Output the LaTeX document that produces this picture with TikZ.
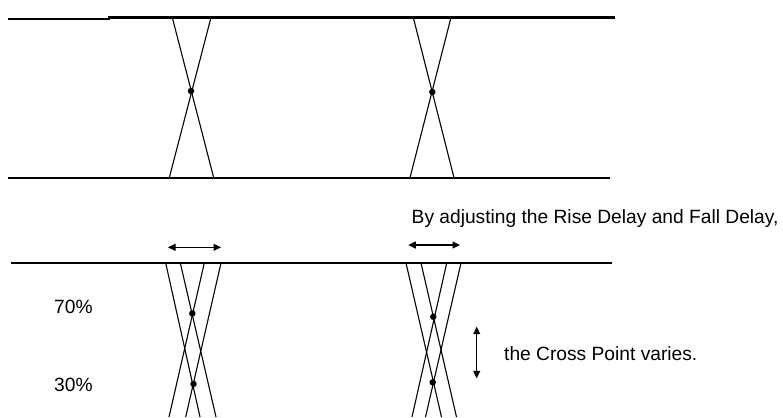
\documentclass[tikz,border=0pt]{standalone}
\usepackage{fontspec}
\setmainfont{Liberation Sans}
\usetikzlibrary{arrows.meta}
\begin{document}
\begin{tikzpicture}[x=1bp,y=-1bp,
  rail/.style={line width=2.1bp},
  railthin/.style={line width=1.4bp},
  edge/.style={line width=1.1bp},
  dot/.style={circle,fill=black,inner sep=0pt,minimum size=6.5bp},
  dbl/.style={line width=1.1bp,{Triangle[length=7.5bp,width=7bp]}-{Triangle[length=7.5bp,width=7bp]}},
  lbl/.style={inner sep=0pt,font=\fontsize{19.2bp}{23bp}\selectfont}]
\useasboundingbox (0,0) rectangle (783,417);
% ---- upper diagram ----
\coordinate (t0) at (8,18.6);
\coordinate (t1) at (110,18.6);
\coordinate (t2) at (108,17.5);
\coordinate (t3) at (615,17.5);
\draw[rail] (t0) -- (t1);
\draw[rail] (t2) -- (t3);
\coordinate (b0) at (8,177.7);
\coordinate (b1) at (610,177.7);
\draw[rail] (b0) -- (b1);
% left X
\coordinate (a1) at (172.3,17.5);
\coordinate (a2) at (213.7,177.7);
\coordinate (a3) at (211,17.5);
\coordinate (a4) at (169.3,177.7);
\draw[edge] (a1) -- (a2);
\draw[edge] (a3) -- (a4);
\node[dot] (da) at (191,91) {};
% right X
\coordinate (c1) at (413.3,17.5);
\coordinate (c2) at (454,177.7);
\coordinate (c3) at (451,17.5);
\coordinate (c4) at (410,177.7);
\draw[edge] (c1) -- (c2);
\draw[edge] (c3) -- (c4);
\node[dot] (dc) at (432.3,92) {};
% ---- text ----
\node[lbl,anchor=base west] (txt1) at (411.5,223.5) {By adjusting the Rise Delay and Fall Delay,};
% ---- lower diagram ----
\coordinate (l0) at (11,263.4);
\coordinate (l1) at (125,263.4);
\coordinate (l2) at (121,262.6);
\coordinate (l3) at (511.7,262.6);
\coordinate (l4) at (511.7,263);
\coordinate (l5) at (611.7,263);
\draw[rail] (l0) -- (l1);
\draw[rail] (l2) -- (l3);
\draw[railthin] (l4) -- (l5);
% left group
\coordinate (p1) at (165.7,263);
\coordinate (p2) at (200,417);
\coordinate (p3) at (180.3,263);
\coordinate (p4) at (216,417);
\coordinate (p5) at (204.3,263);
\coordinate (p6) at (169,417);
\coordinate (p7) at (221,263);
\coordinate (p8) at (185.7,417);
\draw[edge] (p1) -- (p2);
\draw[edge] (p3) -- (p4);
\draw[edge] (p5) -- (p6);
\draw[edge] (p7) -- (p8);
\node[dot] (d70a) at (192.3,313.5) {};
\node[dot] (d30a) at (193.5,384) {};
\coordinate (ha1) at (168,247.3);
\coordinate (ha2) at (221,247.3);
\draw[dbl] (ha1) -- (ha2);
% right group
\coordinate (q1) at (406,263);
\coordinate (q2) at (441.5,417);
\coordinate (q3) at (421,263);
\coordinate (q4) at (456.5,417);
\coordinate (q5) at (446.7,263);
\coordinate (q6) at (412,417);
\coordinate (q7) at (461,263);
\coordinate (q8) at (425.5,417);
\draw[edge] (q1) -- (q2);
\draw[edge] (q3) -- (q4);
\draw[edge] (q5) -- (q6);
\draw[edge] (q7) -- (q8);
\node[dot] (d70b) at (433.3,316.7) {};
\node[dot] (d30b) at (432.7,382.3) {};
\coordinate (hb1) at (408.3,245);
\coordinate (hb2) at (460,245);
\draw[dbl] (hb1) -- (hb2);
% vertical arrow
\coordinate (v1) at (476.7,326.7);
\coordinate (v2) at (476.7,378.3);
\draw[dbl] (v1) -- (v2);
% labels
\node[lbl,anchor=west] (p70) at (54,306.7) {70\%};
\node[lbl,anchor=west] (p30) at (54,385) {30\%};
\node[lbl,anchor=west] (txt2) at (504,353.3) {the Cross Point varies.};
\end{tikzpicture}
\end{document}
